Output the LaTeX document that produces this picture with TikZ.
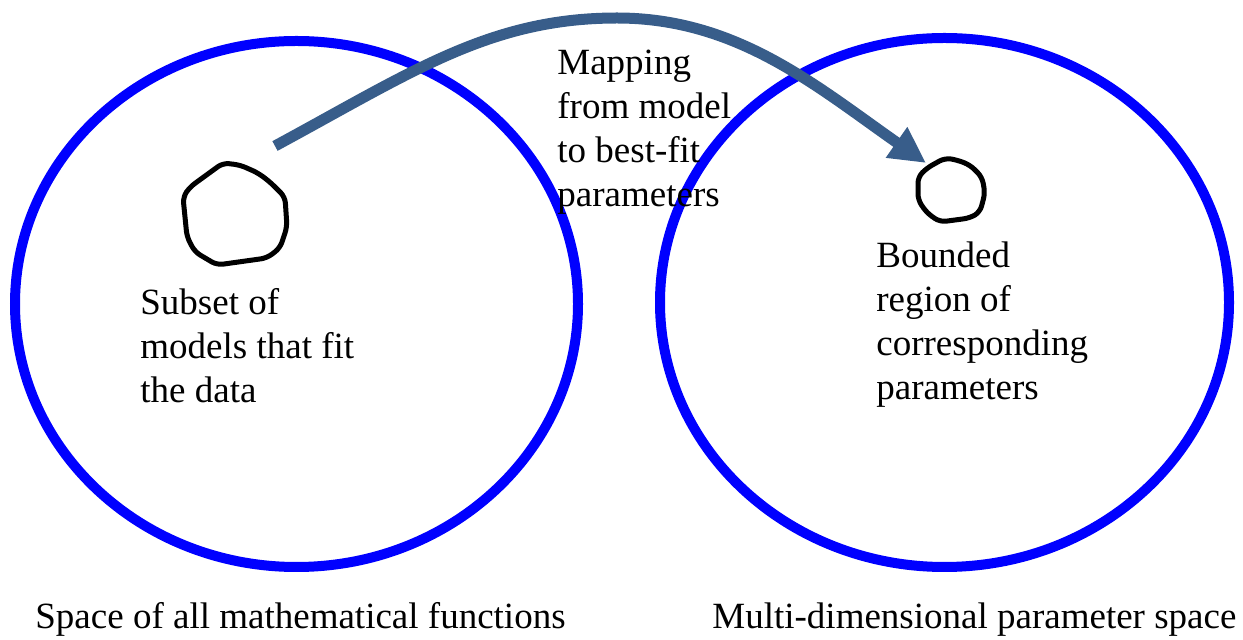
\documentclass[tikz,border=0pt]{standalone}
\usepackage{fontspec}
\setmainfont{Liberation Serif}
\usetikzlibrary{arrows.meta}
\definecolor{arrowblue}{RGB}{56,93,138}
\begin{document}
\begin{tikzpicture}[x=0.5pt,y=-0.5pt,
  space/.style={draw=blue, line width=5pt},
  blob/.style={draw=black, line width=2.5pt, rounded corners=3pt, line join=round},
  maparrow/.style={draw=arrowblue, line width=5.5pt, -{Triangle[length=18pt,width=17.5pt]}},
  label/.style={inner sep=0pt, anchor=base west, font=\fontsize{18.5}{22}\selectfont}]
\useasboundingbox (0,0) rectangle (1243,640);
% the two spaces
\draw[space] (296.5,304) ellipse [x radius=140.75pt, y radius=131.5pt];
\draw[space] (944.5,302.5) ellipse [x radius=142.25pt, y radius=132.25pt];
% the two small regions
\draw[blob] (223,163) -- (240,165) -- (258,173) -- (270,182) -- (285,197) -- (287,227) -- (280,248) -- (267,258) -- (217,265) -- (195,252) -- (187,237) -- (183,197) -- (190,187) -- cycle;
\draw[blob] (945,158) -- (957,160) -- (970,165) -- (982,177) -- (985,193) -- (980,212) -- (970,218) -- (940,222) -- (927,213) -- (918,200) -- (918,177) -- (927,168) -- cycle;
\coordinate (start) at (275,146);
\coordinate (peak) at (617,18);
\coordinate (tip) at (926,163);
% mapping arrow
\draw[maparrow] (start) .. controls (412,72) and (490,18) .. (peak) .. controls (737,18) and (816,86) .. (tip);
% labels
\node[label] (map) at (557,75) {\vtop{\hbox{Mapping}\hbox{from model}\hbox{to best-fit}\hbox{parameters}}};
\node[label] (subset) at (140,315) {\vtop{\hbox{Subset of}\hbox{models that fit}\hbox{the data}}};
\node[label] (bounded) at (876,268) {\vtop{\hbox{Bounded}\hbox{region of}\hbox{corresponding}\hbox{parameters}}};
\node[label] (spaceL) at (35,629) {Space of all mathematical functions};
\node[label] (spaceR) at (712,629) {Multi-dimensional parameter space};
\end{tikzpicture}
\end{document}
